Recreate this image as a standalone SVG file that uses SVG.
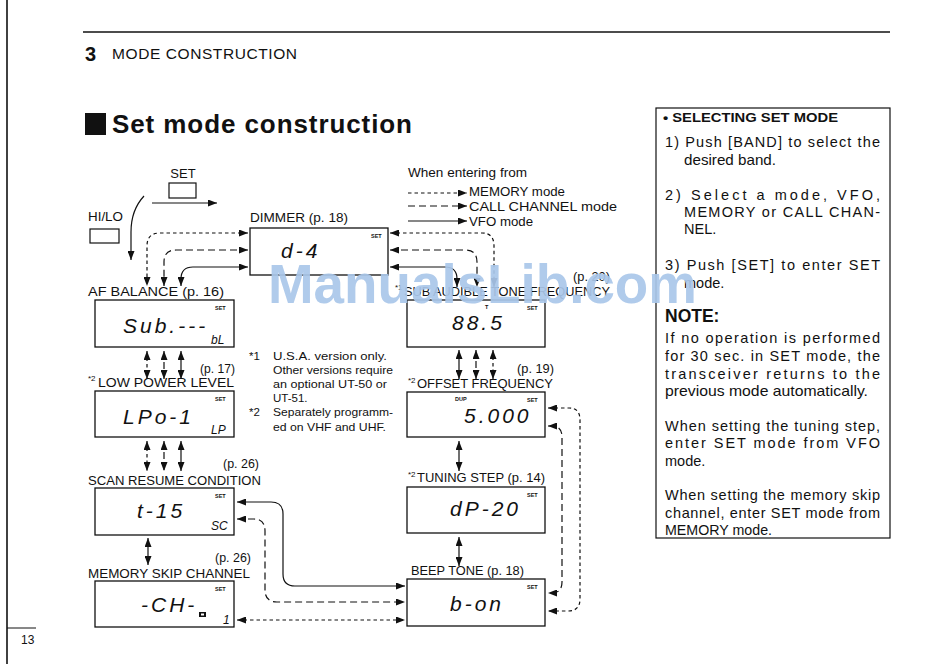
<svg xmlns="http://www.w3.org/2000/svg" width="950" height="671" viewBox="0 0 950 671">
<defs>
<style>
text{font-family:"Liberation Sans",Arial,sans-serif;fill:#111}
.lbl{font-size:13.5px}
.sup{font-size:8px}
.box{fill:#fff;stroke:#111;stroke-width:1.3}
.btn{fill:#fff;stroke:#111;stroke-width:1.2}
.seg{font-size:21px;font-style:italic;letter-spacing:3px}
.segs{font-size:12px;font-style:italic}
.set{font-size:5.5px;font-weight:bold}
.c{fill:none;stroke:#111;stroke-width:1.2}
.mem{stroke-dasharray:3.5 3}
.call{stroke-dasharray:7 4}
.dbl{marker-start:url(#ah);marker-end:url(#ah)}
.one{marker-end:url(#ah)}
.note{font-size:14.5px}
.mid{font-size:11.5px}
</style>
<marker id="ah" viewBox="0 0 9 7" refX="9" refY="3.5" markerWidth="9" markerHeight="7" markerUnits="userSpaceOnUse" orient="auto-start-reverse" preserveAspectRatio="none"><path d="M0,0 L9,3.5 L0,7 z" fill="#111"/></marker>
</defs>
<rect width="950" height="671" fill="#fff"/>

<g id="page">
<line x1="7" y1="0" x2="7" y2="664" stroke="#111" stroke-width="1.6"/>
<line x1="83" y1="32" x2="890" y2="32" stroke="#111" stroke-width="1.6"/>
<line x1="7" y1="628" x2="36" y2="628" stroke="#111" stroke-width="1"/>
<text x="21" y="644" font-size="12">13</text>
<text x="85" y="61" font-size="20" font-weight="bold">3</text>
<text x="112" y="59" font-size="15.5" textLength="185" lengthAdjust="spacing">MODE CONSTRUCTION</text>
<rect x="85" y="113" width="21" height="22" fill="#111"/>
<text x="112" y="133" font-size="26" font-weight="bold" textLength="300" lengthAdjust="spacing">Set mode construction</text>
</g>

<g id="buttons">
<text x="183" y="178" font-size="13" text-anchor="middle">SET</text>
<rect class="btn" x="169" y="183" width="27" height="15"/>
<text x="88" y="221" font-size="13" textLength="35" lengthAdjust="spacingAndGlyphs">HI/LO</text>
<rect class="btn" x="90" y="229" width="29" height="14"/>
</g>

<g id="legend">
<text x="408" y="177" class="lbl" textLength="119" lengthAdjust="spacingAndGlyphs">When entering from</text>
<text x="469" y="196" class="lbl" textLength="96" lengthAdjust="spacingAndGlyphs">MEMORY mode</text>
<text x="469" y="211" class="lbl" textLength="148" lengthAdjust="spacingAndGlyphs">CALL CHANNEL mode</text>
<text x="469" y="226" class="lbl" textLength="64" lengthAdjust="spacingAndGlyphs">VFO mode</text>
</g>

<g id="dimmer">
<text x="250" y="222" class="lbl" textLength="98" lengthAdjust="spacingAndGlyphs">DIMMER (p. 18)</text>
<rect class="box" x="250" y="228" width="138" height="47"/>
<text x="281" y="258" class="seg">d-4</text>
<text x="371" y="238" class="set">SET</text>
</g>

<g id="af-balance">
<text x="88" y="296" class="lbl" textLength="136" lengthAdjust="spacingAndGlyphs">AF BALANCE (p. 16)</text>
<rect class="box" x="95" y="300" width="139" height="47"/>
<text x="123" y="333" class="seg">Sub.---</text>
<text x="211" y="344" class="segs">bL</text>
<text x="215" y="310" class="set">SET</text>
</g>

<g id="low-power">
<text x="200" y="373" class="lbl" textLength="35" lengthAdjust="spacingAndGlyphs">(p. 17)</text>
<text x="88" y="381" class="sup">*2</text>
<text x="98" y="387" class="lbl" textLength="136" lengthAdjust="spacingAndGlyphs">LOW POWER LEVEL</text>
<rect class="box" x="95" y="391" width="139" height="46"/>
<text x="123" y="424" class="seg">LPo-1</text>
<text x="211" y="434" class="segs">LP</text>
<text x="215" y="401" class="set">SET</text>
</g>

<g id="scan-resume">
<text x="223" y="468" class="lbl" textLength="36" lengthAdjust="spacingAndGlyphs">(p. 26)</text>
<text x="88" y="485" class="lbl" textLength="173" lengthAdjust="spacingAndGlyphs">SCAN RESUME CONDITION</text>
<rect class="box" x="95" y="488" width="139" height="47"/>
<text x="137" y="518" class="seg">t-15</text>
<text x="211" y="530" class="segs">SC</text>
<text x="215" y="498" class="set">SET</text>
</g>

<g id="memory-skip">
<text x="215" y="562" class="lbl" textLength="36" lengthAdjust="spacingAndGlyphs">(p. 26)</text>
<text x="88" y="578" class="lbl" textLength="162" lengthAdjust="spacingAndGlyphs">MEMORY SKIP CHANNEL</text>
<rect class="box" x="95" y="581" width="139" height="46"/>
<text x="141" y="612" class="seg">-CH-</text>
<rect x="199" y="612" width="7" height="5" fill="#111"/>
<rect x="201" y="613.5" width="3" height="2" fill="#fff"/>
<text x="223" y="624" class="segs">1</text>
<text x="215" y="591" class="set">SET</text>
</g>

<g id="sub-audible">
<text x="573" y="281" class="lbl" textLength="37" lengthAdjust="spacingAndGlyphs">(p. 20)</text>
<text x="395" y="290" class="sup">*1</text>
<text x="404" y="296" class="lbl" textLength="206" lengthAdjust="spacingAndGlyphs">SUB AUDIBLE TONE FREQUENCY</text>
<rect class="box" x="407" y="300" width="138" height="47"/>
<text x="452" y="330" class="seg" letter-spacing="1">88.5</text>
<text x="485" y="309" class="set">T</text>
<text x="527" y="310" class="set">SET</text>
</g>

<g id="offset">
<text x="517" y="373" class="lbl" textLength="37" lengthAdjust="spacingAndGlyphs">(p. 19)</text>
<text x="408" y="383" class="sup">*2</text>
<text x="417" y="388" class="lbl" textLength="136" lengthAdjust="spacingAndGlyphs">OFFSET FREQUENCY</text>
<rect class="box" x="407" y="392" width="138" height="45"/>
<text x="464" y="423" class="seg" letter-spacing="1">5.000</text>
<text x="455" y="401" class="set">DUP</text>
<text x="527" y="402" class="set">SET</text>
</g>

<g id="tuning-step">
<text x="408" y="477" class="sup">*2</text>
<text x="417" y="482" class="lbl" textLength="128" lengthAdjust="spacingAndGlyphs">TUNING STEP (p. 14)</text>
<rect class="box" x="407" y="487" width="138" height="46"/>
<text x="450" y="516" class="seg">dP-20</text>
<text x="527" y="497" class="set">SET</text>
</g>

<g id="beep-tone">
<text x="411" y="575" class="lbl" textLength="113" lengthAdjust="spacingAndGlyphs">BEEP TONE (p. 18)</text>
<rect class="box" x="407" y="579" width="138" height="47"/>
<text x="450" y="611" class="seg">b-on</text>
<text x="527" y="589" class="set">SET</text>
</g>

<g id="footnotes">
<text x="249" y="360" class="mid">*1</text>
<text x="273" y="360" class="mid" textLength="114" lengthAdjust="spacingAndGlyphs">U.S.A. version only.</text>
<text x="273" y="374" class="mid" textLength="120" lengthAdjust="spacingAndGlyphs">Other versions require</text>
<text x="273" y="388" class="mid" textLength="114" lengthAdjust="spacingAndGlyphs">an optional UT-50 or</text>
<text x="273" y="402" class="mid">UT-51.</text>
<text x="249" y="416" class="mid">*2</text>
<text x="273" y="416" class="mid" textLength="120" lengthAdjust="spacingAndGlyphs">Separately programm-</text>
<text x="273" y="431" class="mid" textLength="113" lengthAdjust="spacingAndGlyphs">ed on VHF and UHF.</text>
</g>

<g id="note-box">
<rect x="656" y="108" width="234" height="430" fill="none" stroke="#111" stroke-width="1.2"/>
<text x="663" y="122" font-size="13" font-weight="bold" textLength="175" lengthAdjust="spacingAndGlyphs">• SELECTING SET MODE</text>
<text x="665" y="147" class="note" textLength="215" lengthAdjust="spacing">1) Push [BAND] to select the</text>
<text x="684" y="165" class="note" textLength="92" lengthAdjust="spacingAndGlyphs">desired band.</text>
<text x="665" y="200" class="note" textLength="215" lengthAdjust="spacing">2) Select a mode, VFO,</text>
<text x="684" y="217" class="note" textLength="196" lengthAdjust="spacing">MEMORY or CALL CHAN-</text>
<text x="684" y="234" class="note">NEL.</text>
<text x="665" y="270" class="note" textLength="215" lengthAdjust="spacing">3) Push [SET] to enter SET</text>
<text x="684" y="288" class="note">mode.</text>
<text x="665" y="322" font-size="17.5" font-weight="bold">NOTE:</text>
<text x="665" y="343" class="note" textLength="215" lengthAdjust="spacing">If no operation is performed</text>
<text x="665" y="361" class="note" textLength="215" lengthAdjust="spacing">for 30 sec. in SET mode, the</text>
<text x="665" y="379" class="note" textLength="215" lengthAdjust="spacing">transceiver returns to the</text>
<text x="665" y="396" class="note" textLength="203" lengthAdjust="spacingAndGlyphs">previous mode automatically.</text>
<text x="665" y="431" class="note" textLength="215" lengthAdjust="spacing">When setting the tuning step,</text>
<text x="665" y="448" class="note" textLength="215" lengthAdjust="spacing">enter SET mode from VFO</text>
<text x="665" y="466" class="note">mode.</text>
<text x="665" y="500" class="note" textLength="215" lengthAdjust="spacing">When setting the memory skip</text>
<text x="665" y="518" class="note" textLength="215" lengthAdjust="spacing">channel, enter SET mode from</text>
<text x="665" y="535" class="note" textLength="107" lengthAdjust="spacingAndGlyphs">MEMORY mode.</text>
</g>

<g id="connectors">
<path class="c one" stroke-width="1.8" d="M152,203 H217"/>
<path class="c one" stroke-width="1.8" d="M144,196 Q131,210 131,232 V260"/>
<path class="c mem one" d="M408,193 H467"/>
<path class="c call one" d="M408,206 H467"/>
<path class="c one" d="M408,221 H467"/>

<path class="c mem dbl" d="M248,233 H160 Q147,233 147,246 V286"/>
<path class="c call dbl" d="M248,250 H176 Q164,250 164,262 V286"/>
<path class="c dbl" d="M248,267 H193 Q181,267 181,279 V286"/>
<path class="c mem dbl" d="M390,233 H482 Q494,233 494,246 V287"/>
<path class="c call dbl" d="M390,250 H465 Q477,250 477,262 V287"/>
<path class="c dbl" d="M390,267 H445 Q457,267 457,279 V287"/>

<path class="c mem dbl" d="M147,351 V379"/>
<path class="c call dbl" d="M164,351 V379"/>
<path class="c dbl" d="M181,351 V379"/>
<path class="c mem dbl" d="M147,441 V471"/>
<path class="c call dbl" d="M164,441 V471"/>
<path class="c dbl" d="M181,441 V471"/>
<path class="c dbl" d="M148,538 V565"/>

<path class="c dbl" d="M459,350 V379"/>
<path class="c call dbl" d="M476,350 V379"/>
<path class="c mem dbl" d="M493,350 V379"/>
<path class="c dbl" d="M459,441 V471"/>
<path class="c dbl" d="M459,537 V566"/>

<path class="c mem dbl" d="M548,408 H569 Q580,408 580,420 V599 Q580,611 568,611 H548"/>
<path class="c call dbl" d="M548,426 H552 Q562,426 562,437 V582 Q562,593 552,593 H548"/>

<path class="c dbl" d="M237,502 H271 Q283,502 283,514 V574 Q283,586 295,586 H405"/>
<path class="c call dbl" d="M237,519 H254 Q265,519 265,531 V590 Q265,602 277,602 H405"/>
<path class="c mem dbl" d="M237,620 H405"/>
</g>

<g id="watermark">
<text x="268" y="303" font-size="56" font-weight="bold" style="fill:#aac7ea" opacity="0.92" textLength="429" lengthAdjust="spacingAndGlyphs">ManualsLib.com</text>
</g>
</svg>
